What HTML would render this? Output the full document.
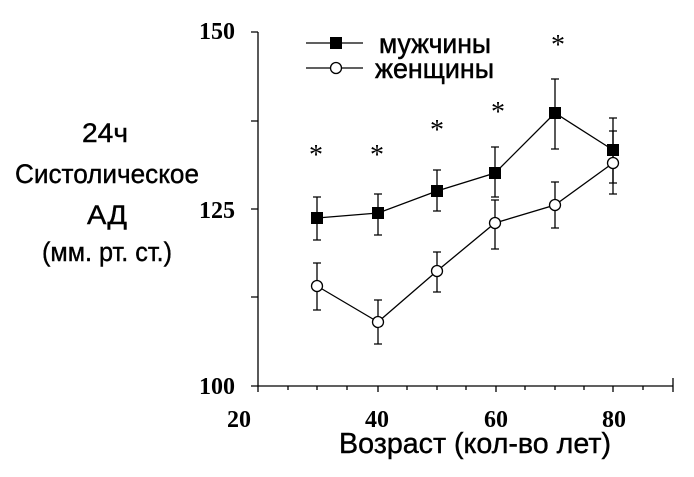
<!DOCTYPE html>
<html><head><meta charset="utf-8"><style>
body{margin:0;background:#fff;}
svg{display:block}
</style></head><body>
<svg width="694" height="477" xmlns="http://www.w3.org/2000/svg">
<g font-family="Liberation Sans, DejaVu Sans, sans-serif" fill="#000" stroke="#000" stroke-width="0.4" font-size="27" text-anchor="middle">
<text x="105" y="142" textLength="46" lengthAdjust="spacingAndGlyphs">24ч</text>
<text x="107" y="183" textLength="184" lengthAdjust="spacingAndGlyphs">Систолическое</text>
<text x="107" y="224" textLength="40" lengthAdjust="spacingAndGlyphs">АД</text>
<text x="107" y="261" textLength="130" lengthAdjust="spacingAndGlyphs">(мм. рт. ст.)</text>
<text x="475" y="453" font-size="29" textLength="272" lengthAdjust="spacingAndGlyphs">Возраст (кол-во лет)</text>
</g>
<g font-family="Liberation Serif, serif" font-weight="bold" font-size="24" fill="#000">
<text x="235" y="39" text-anchor="end">150</text>
<text x="235" y="218" text-anchor="end">125</text>
<text x="235" y="394" text-anchor="end">100</text>
<text x="239" y="427" text-anchor="middle">20</text>
<text x="377" y="427" text-anchor="middle">40</text>
<text x="496" y="427" text-anchor="middle">60</text>
<text x="614" y="427" text-anchor="middle">80</text>
</g>
<g stroke="#000" stroke-width="1.3" fill="none">
<path d="M258 32V386H673"/>
<path d="M251 32H258M251 121H258M251 209H258M251 297H258M251 386H258"/>
<path d="M258 386v6M288 386v4M317 386v4M347 386v4M378 386v6M407 386v4M437 386v4M466 386v4M496 386v6M525 386v4M555 386v4M584 386v4M613 386v6M643 386v4M673 386v-8v14"/>
<path d="M317 197V240M313 197h8M313 240h8M378 194V235M374 194h8M374 235h8M437 170V211M433 170h8M433 211h8M495 147V197M491 147h8M491 197h8M555 79V149M551 79h8M551 149h8M613 118V183M609 118h8M609 131h8M609 183h8"/>
<path d="M317 263V310M313 263h8M313 310h8M378 300V344M374 300h8M374 344h8M437 252V292M433 252h8M433 292h8M495 200V249M491 200h8M491 249h8M555 182V228M551 182h8M551 228h8M613 131V194M609 194h8"/>
<polyline points="317,218 378,213 437,191 495,173 555,113 613,150"/>
<polyline points="317,286 378,322 437,271 495,223 555,205 613,163"/>
<path d="M306 43H363M306 68H363"/>
</g>
<g fill="#000">
<rect x="311" y="212" width="12" height="12"/><rect x="372" y="207" width="12" height="12"/>
<rect x="431" y="185" width="12" height="12"/><rect x="489" y="167" width="12" height="12"/>
<rect x="549" y="107" width="12" height="12"/><rect x="607" y="144" width="12" height="12"/>
<rect x="330" y="37" width="12" height="12"/>
</g>
<g fill="#fff" stroke="#000" stroke-width="1.3">
<circle cx="317" cy="286" r="5.5"/><circle cx="378" cy="322" r="5.5"/><circle cx="437" cy="271" r="5.5"/>
<circle cx="495" cy="223" r="5.5"/><circle cx="555" cy="205" r="5.5"/><circle cx="613" cy="163" r="5.5"/>
<circle cx="336" cy="68" r="5.5"/>
</g>
<g font-family="Liberation Serif, serif" font-size="28" text-anchor="middle" fill="#000">
<text x="316" y="164">*</text><text x="377" y="164">*</text><text x="437" y="139">*</text>
<text x="498" y="121">*</text><text x="558" y="54">*</text>
</g>
<g font-family="Liberation Sans, DejaVu Sans, sans-serif" font-size="28" fill="#000" stroke="#000" stroke-width="0.5">
<text x="379" y="53" textLength="112" lengthAdjust="spacingAndGlyphs">мужчины</text>
<text x="375" y="78" textLength="119" lengthAdjust="spacingAndGlyphs">женщины</text>
</g>
</svg>
</body></html>
